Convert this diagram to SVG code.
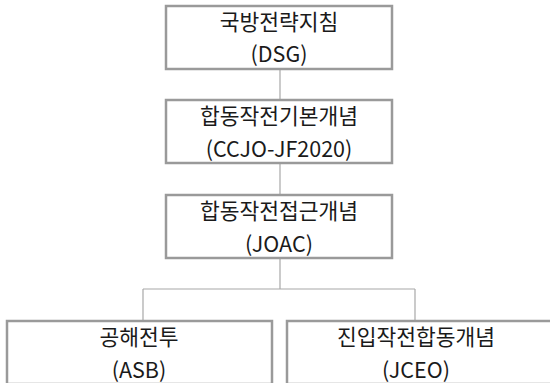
<svg xmlns="http://www.w3.org/2000/svg" width="550" height="383" viewBox="0 0 550 383">
<style>
.box{fill:#fff;stroke:#9a9a9a;stroke-width:2.5}
.con{fill:none;stroke:#a8a8a8;stroke-width:1.2}
text{font-family:"Noto Sans CJK KR","Noto Sans",sans-serif;font-size:21.5px;fill:#1a1a1a;text-anchor:middle}
</style>
<rect width="550" height="383" fill="#fff"/>
<g id="connectors">
<path class="con" d="M280 69V100M280 163V195M280 258V289M143 289H415M143 289V321M415 289V321"/>
</g>
<g id="n1"><rect class="box" x="166" y="6" width="226" height="63"/><text x="279" y="30">국방전략지침</text><text x="279" y="62">(DSG)</text></g>
<g id="n2"><rect class="box" x="166" y="100" width="226" height="63"/><text x="279" y="124">합동작전기본개념</text><text x="279" y="157">(CCJO-JF2020)</text></g>
<g id="n3"><rect class="box" x="166" y="195" width="226" height="63"/><text x="279" y="219">합동작전접근개념</text><text x="279" y="252">(JOAC)</text></g>
<g id="n4"><rect class="box" x="7" y="321" width="265" height="63"/><text x="139" y="345">공해전투</text><text x="139" y="378">(ASB)</text></g>
<g id="n5"><rect class="box" x="287" y="321" width="270" height="63"/><text x="416" y="345">진입작전합동개념</text><text x="416" y="378">(JCEO)</text></g>
</svg>
